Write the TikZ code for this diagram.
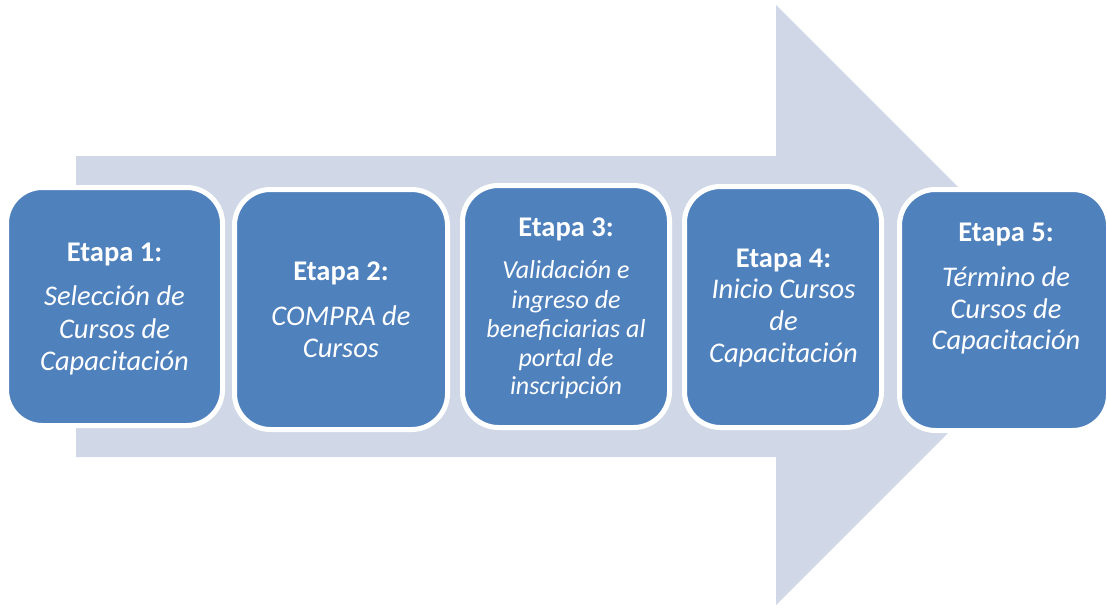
\documentclass[tikz,border=0pt]{standalone}
\usepackage{fontspec}
\setmainfont{Carlito}
\definecolor{boxblue}{HTML}{4F81BD}
\definecolor{arrowfill}{HTML}{D0D8E8}
\begin{document}
\begin{tikzpicture}[x=1pt,y=-1pt,
  stage/.style={draw=white, line width=5pt, fill=boxblue, rounded corners=36pt, inner sep=0pt},
  lbl/.style={anchor=base, text=white, inner sep=0pt},
  hd/.style={lbl, font=\fontsize{28.5}{32}\selectfont\bfseries},
  it/.style={lbl, font=\fontsize{28.5}{32}\selectfont\itshape},
  its/.style={lbl, font=\fontsize{26}{29}\selectfont\itshape}]
\useasboundingbox (0,0) rectangle (1107,607);
% big background arrow
\fill[arrowfill] (76,156) -- (776,156) -- (776,5) -- (1076,305) -- (776,605) -- (776,457) -- (76,457) -- cycle;
% stage boxes
\node[stage, minimum width=216pt, minimum height=238pt] (s1) at (114.5,306.5) {};
\node[stage, minimum width=213pt, minimum height=240pt] (s2) at (341,309.5) {};
\node[stage, minimum width=207pt, minimum height=242pt] (s3) at (566,306.5) {};
\node[stage, minimum width=197pt, minimum height=241pt] (s4) at (783,307) {};
\node[stage, minimum width=209pt, minimum height=241pt] (s5) at (1004,310) {};
% texts box 1
\node[hd] (t1a) at (114.5,261.7) {Etapa 1:};
\node[it] (t1b) at (114.5,305) {Selección de};
\node[it] (t1c) at (114.5,338) {Cursos de};
\node[it] (t1d) at (114.5,370) {Capacitación};
% box 2
\node[hd] (t2a) at (341,280) {Etapa 2:};
\node[it] (t2b) at (341,325) {COMPRA de};
\node[it] (t2c) at (341,357) {Cursos};
% box 3
\node[hd] (t3a) at (566,236) {Etapa 3:};
\node[its] (t3b) at (566,278) {Validación e};
\node[its] (t3c) at (566,308) {ingreso de};
\node[its] (t3d) at (566,337) {beneficiarias al};
\node[its] (t3e) at (566,366) {portal de};
\node[its] (t3f) at (566,394) {inscripción};
% box 4
\node[hd] (t4a) at (783.5,267) {Etapa 4:};
\node[it] (t4b) at (783.5,298) {Inicio Cursos};
\node[it] (t4c) at (783.5,330) {de};
\node[it] (t4d) at (783.5,362) {Capacitación};
% box 5
\node[hd] (t5a) at (1006,241) {Etapa 5:};
\node[it] (t5b) at (1006,286) {Término de};
\node[it] (t5c) at (1006,318) {Cursos de};
\node[it] (t5d) at (1006,349) {Capacitación};
\end{tikzpicture}
\end{document}
